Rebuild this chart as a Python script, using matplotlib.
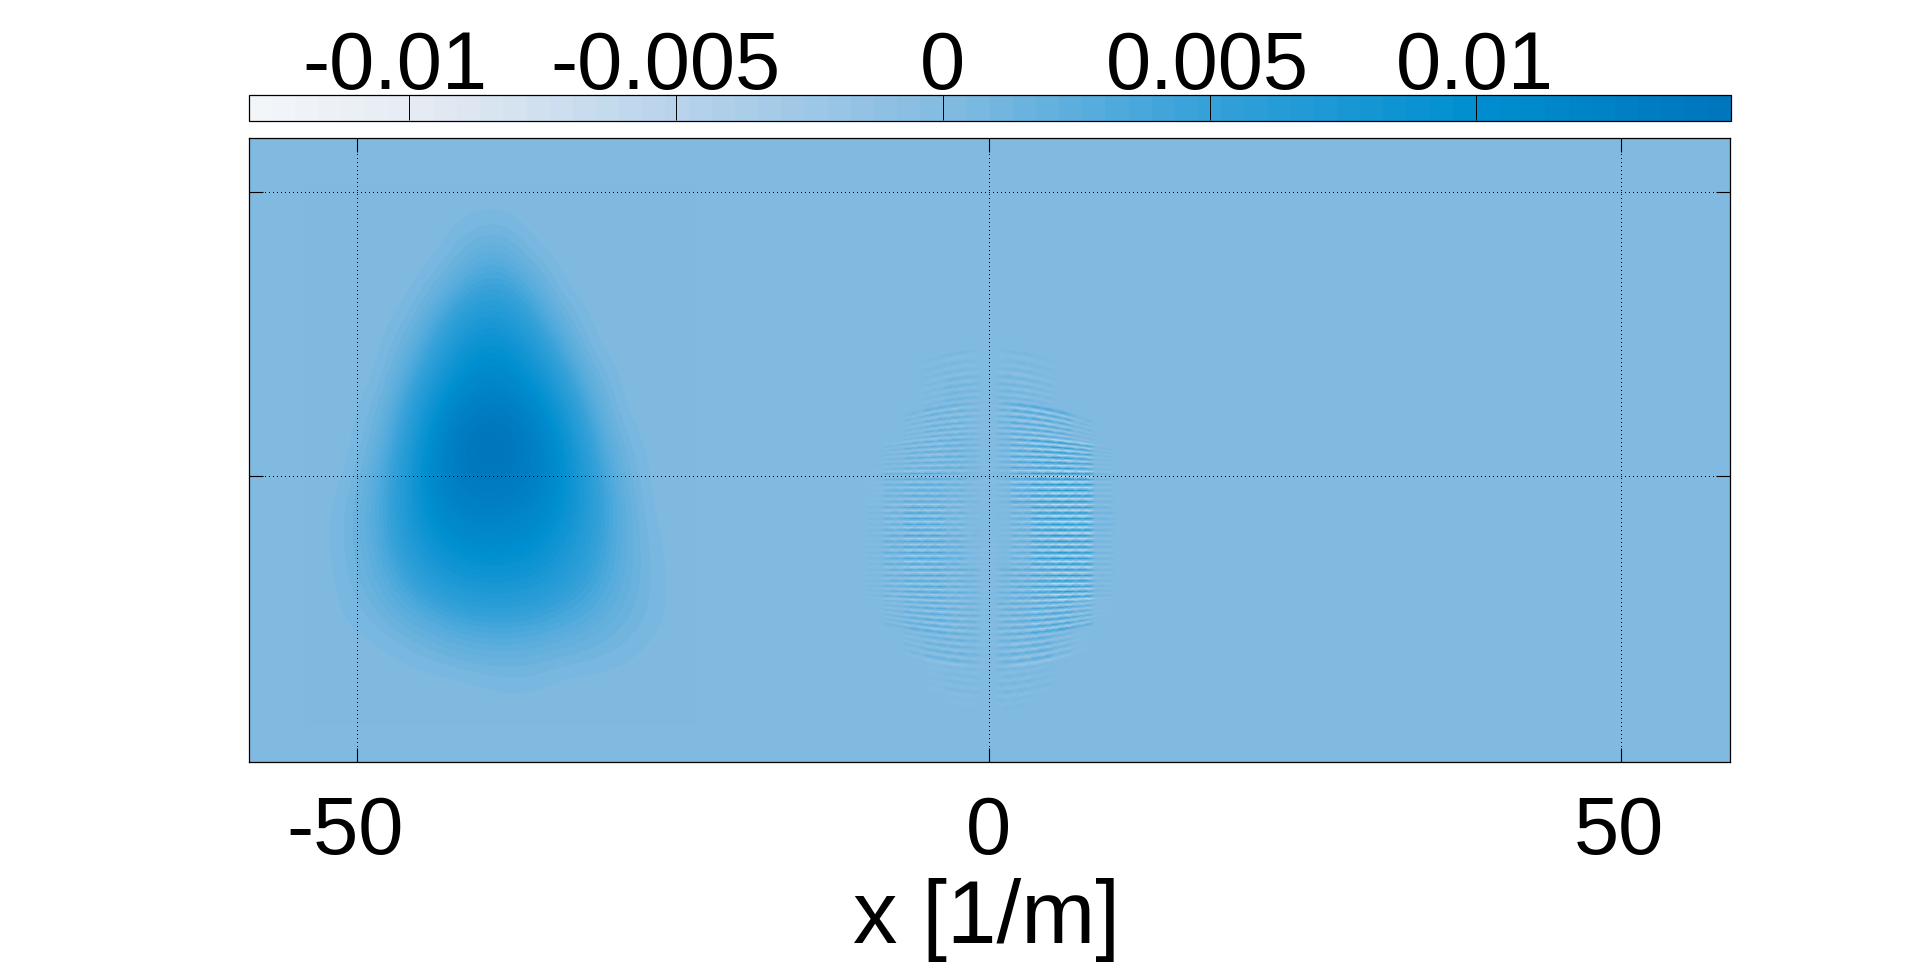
import numpy as np
import matplotlib
matplotlib.use('Agg')
import matplotlib.pyplot as plt
from matplotlib.colors import LinearSegmentedColormap, Normalize
from matplotlib.transforms import ScaledTranslation

plt.rcParams['font.family'] = ['Liberation Sans', 'DejaVu Sans']

# colour scale
cbar_min = -0.013
cbar_max = 0.01476
cbar_ticks = [-0.01, -0.005, 0, 0.005, 0.01]
cbar_labels = ['-0.01', '-0.005', '0', '0.005', '0.01']
stop_values = [-0.013, -0.01, -0.005, 0.0, 0.005, 0.01, 0.01476]
stop_colors = ['#f3f6f9', '#e6ebf3', '#b7d3eb', '#83bbe1', '#35a1d9', '#008fd0', '#0076bd']
background = 0.00013

x_ticks = [-50, 0, 50]
x_labels = ['-50', '0', '50']
y_ticks = [0, 50]

# teardrop on the left, estimated in units of 1e-3
blob_gain = 1.06
blob_x = [-52.9, -50.5, -48.2, -45.8, -43.4, -41.0, -38.7, -36.3, -33.9, -31.5, -29.2, -26.8, -24.4]
blob_y = [48.6, 43.3, 38.0, 32.8, 27.5, 22.2, 16.9, 11.6, 6.4, 1.1, -4.2, -9.5, -14.8, -20.0, -25.3, -30.6, -35.9, -41.2]
blob = [
    [0, 0, 0, 0, 0, 0, 0, 0, 0, 0, 0, 0, 0],
    [0, 0, 0, 0, 0, 0.6, 0.9, 0, 0, 0, 0, 0, 0],
    [0, 0, 0, 0, 0.2, 1.9, 2.7, 0.8, 0, 0, 0, 0, 0],
    [0, 0, 0, 0, 1.5, 4.0, 4.7, 2.8, 0.2, 0, 0, 0, 0],
    [0, 0, 0, 0.6, 3.5, 6.5, 7.0, 4.8, 1.6, 0, 0, 0, 0],
    [0, 0, 0, 1.8, 5.5, 8.5, 9.0, 7.0, 3.5, 0.3, 0, 0, 0],
    [0, 0, 0.2, 3.3, 7.5, 10.4, 10.8, 9.0, 5.5, 1.6, 0, 0, 0],
    [0, 0, 0.9, 5.0, 9.5, 12.3, 12.8, 11.0, 7.5, 3.0, 0.1, 0, 0],
    [0, 0, 1.6, 6.2, 11.0, 13.7, 14.0, 12.5, 9.0, 4.3, 0.8, 0, 0],
    [0, 0.1, 2.5, 7.0, 11.5, 13.4, 13.6, 12.5, 9.6, 5.2, 1.5, 0, 0],
    [0, 0.6, 3.0, 7.2, 10.8, 12.3, 12.4, 11.5, 9.3, 5.8, 2.2, 0, 0],
    [0, 0.8, 3.0, 6.8, 9.5, 10.6, 10.7, 10.0, 8.2, 5.5, 2.3, 0.3, 0],
    [0, 0.7, 2.6, 5.5, 7.8, 8.9, 9.0, 8.5, 7.0, 4.8, 2.2, 0.5, 0],
    [0, 0.5, 1.8, 3.8, 5.6, 6.7, 6.9, 6.5, 5.3, 3.7, 1.9, 0.6, 0],
    [0, 0.3, 0.9, 2.0, 3.1, 4.0, 4.3, 4.0, 3.2, 2.3, 1.3, 0.5, 0],
    [0, 0, 0.1, 0.6, 1.2, 1.8, 1.9, 1.8, 1.4, 1.0, 0.6, 0.1, 0],
    [0, 0, 0, 0, 0, 0.15, 0.5, 0.5, 0.1, 0.05, 0, 0, 0],
    [0, 0, 0, 0, 0, 0, 0, 0, 0, 0, 0, 0, 0],
]

# fine stripes around x=0: stripe rows, how much each one arcs, and their strength
stripe_y = [22.3, 20.4, 19.0, 17.6, 16.3, 15.1, 13.9, 12.8, 11.7, 10.6, 9.5, 8.5, 7.5, 6.5, 5.5, 4.5, 3.5,
            2.5, 1.5, 0.5, -0.5, -1.5, -2.5, -3.5, -4.5, -5.5, -6.5, -7.5, -8.5, -9.5, -10.5, -11.5,
            -12.5, -13.5, -14.5, -15.5, -16.5, -17.5, -18.5, -19.5, -20.5, -21.5, -22.5, -23.5, -24.6,
            -25.7, -26.8, -27.9, -29.1, -30.3, -31.5, -32.8, -34.1, -35.4, -36.7, -38.1, -39.5, -41.0]
stripe_bend = [0.08, 0.075, 0.072, 0.068, 0.064, 0.06, 0.055, 0.05, 0.045, 0.04, 0.035, 0.03, 0.025, 0.02,
               0.016, 0.012, 0.009, 0.006, 0.004, 0.002, 0.001, 0, 0, 0, 0, 0, 0, 0, 0, 0, 0, 0, 0, 0, 0, 0,
               0, 0, -0.001, -0.002, -0.004, -0.006, -0.009, -0.012, -0.016, -0.02, -0.025, -0.03,
               -0.035, -0.04, -0.045, -0.05, -0.055, -0.06, -0.064, -0.068, -0.072, -0.075]
fringe_x = [-9.1, -7.5, -5.9, -4.3, -2.7, -1.2, 0.0, 1.2, 2.8, 4.4, 5.9, 7.5, 9.1, 10.7]
fringe_y = [21.9, 16.0, 10.2, 4.3, -1.6, -7.4, -13.3, -19.2, -25.0, -30.9, -36.8, -41.5]
fringe_amp = [
    [0, 0, 0, 0.2, 0.4, 0.3, 0.03, 0.3, 0.4, 0.2, 0, 0, 0, 0],
    [0, 0, 0, 0.3, 0.6, 0.5, 0.05, 0.6, 0.7, 0.4, 0, 0, 0, 0],
    [0, 0, 0.4, 0.9, 1.0, 0.7, 0.1, 0.9, 1.7, 2.0, 1.5, 0.4, 0, 0],
    [0, 0.4, 0.9, 1.2, 1.1, 0.6, 0.1, 0.8, 2.0, 2.8, 3.2, 2.2, 0.3, 0],
    [0.1, 0.8, 1.4, 1.3, 0.9, 0.4, 0.1, 0.5, 2.0, 3.2, 3.8, 3.2, 0.5, 0],
    [0.2, 1.0, 1.9, 1.8, 1.0, 0.3, 0.05, 0.2, 1.2, 3.2, 3.8, 3.5, 0.6, 0],
    [0.2, 1.1, 2.0, 1.9, 1.1, 0.4, 0.1, 0.2, 1.2, 3.0, 3.8, 3.3, 0.5, 0],
    [0.2, 0.9, 1.6, 1.7, 1.2, 0.8, 0.1, 0.8, 1.5, 2.5, 3.5, 2.8, 0.4, 0],
    [0, 0.5, 1.1, 1.5, 1.2, 0.8, 0.1, 0.9, 1.4, 2.0, 2.2, 1.2, 0.1, 0],
    [0, 0, 0.4, 0.8, 0.9, 0.6, 0.1, 0.8, 1.2, 1.3, 0.7, 0.1, 0, 0],
    [0, 0, 0, 0.1, 0.25, 0.25, 0.05, 0.4, 0.4, 0.2, 0, 0, 0, 0],
    [0, 0, 0, 0, 0.1, 0.1, 0, 0.15, 0.15, 0, 0, 0, 0, 0],
]
fringe_gain = 2.3
dash_weight = [1.0, 0.7]

fig = plt.figure(figsize=(19.1, 9.74), dpi=100)
ax = fig.add_axes([248.7/1910, 1-761.5/974, 1480.9/1910, 623.5/974])
cax = fig.add_axes([248.7/1910, 1-120.5/974, 1481.9/1910, 25.2/974])

stops = [(v-cbar_min)/(cbar_max-cbar_min) for v in stop_values]
cmap = LinearSegmentedColormap.from_list('bar', list(zip(stops, stop_colors)), N=64)
norm = Normalize(cbar_min, cbar_max)

ax.set_facecolor(cmap(norm(background)))

# teardrop
dx = (blob_x[1]-blob_x[0])/2
dy = (blob_y[0]-blob_y[1])/2
im = ax.imshow(np.array(blob)*blob_gain*1e-3+background, cmap=cmap, norm=norm, aspect='auto', interpolation='bicubic',
               extent=[blob_x[0]-dx, blob_x[-1]+dx, blob_y[-1]-dy, blob_y[0]+dy], zorder=1)

# stripes, one dark and one light row per entry of stripe_y
sy = np.array(stripe_y)
sb = np.array(stripe_bend)
row_y = np.empty(2*len(sy)-1)
row_b = np.empty(2*len(sy)-1)
row_y[0::2] = sy
row_y[1::2] = (sy[:-1]+sy[1:])/2
row_b[0::2] = sb
row_b[1::2] = (sb[:-1]+sb[1:])/2
rows = np.arange(len(row_y))
sign = np.where(rows % 2 == 0, 1.0, -1.0)

# mesh columns about half a dash wide, strength taken from the nearest reading
fx = np.arange(-9.6, 10.4, 0.53)
cols = np.arange(len(fx))
near_row = np.abs(row_y[:, None]-np.array(fringe_y)).argmin(axis=1)
near_col = np.abs(fx[:, None]-np.array(fringe_x)).argmin(axis=1)
amp = np.array(fringe_amp)[near_row][:, near_col]
weight = np.array(dash_weight)[(rows[:, None]//2+cols[None, :]) % 2]
fringe = amp*weight*sign[:, None]*fringe_gain*1e-3+background
X = np.tile(fx, (len(row_y), 1))
Y = row_y[:, None]-row_b[:, None]*fx[None, :]**2
ax.pcolormesh(X, Y, fringe, cmap=cmap, norm=norm, shading='gouraud', zorder=2)

ax.set_xlim(-58.55, 58.6)
ax.set_ylim(-50.2, 59.55)
ax.set_xticks(x_ticks)
ax.set_xticklabels(x_labels)
ax.set_yticks(y_ticks)
ax.set_yticklabels([])
ax.tick_params(axis='both', direction='in', length=10, width=0.8, top=True, right=True, colors='black')
ax.tick_params(axis='x', labelsize=58.5, pad=24)
ax.grid(True, color='black', linewidth=0.72, linestyle=(0, (1, 4)), zorder=3, antialiased=False)
ax.set_axisbelow(False)
for s in ax.spines.values():
    s.set_linewidth(0.9)
ax.set_xlabel('x [1/m]', fontsize=64)
ax.xaxis.set_label_coords(0.498, -0.187)
ax.xaxis.label.set_va('top')

cb = fig.colorbar(im, cax=cax, orientation='horizontal', ticks=cbar_ticks)
cb.ax.xaxis.set_ticks_position('top')
cb.ax.set_xticklabels(cbar_labels)
cb.ax.tick_params(axis='x', direction='in', length=18.2, width=0.7, labelsize=58.5, pad=-7.5)
cb.outline.set_linewidth(0.9)
cb.minorticks_off()

# the negative labels sit a little left of their ticks in the reference
for lab, shift in zip(cb.ax.get_xticklabels(), [-0.14, -0.1, 0, -0.02, -0.02]):
    lab.set_transform(lab.get_transform()+ScaledTranslation(shift, 0, fig.dpi_scale_trans))
for lab, shift in zip(ax.get_xticklabels(), [-0.12, 0, -0.02]):
    lab.set_transform(lab.get_transform()+ScaledTranslation(shift, 0, fig.dpi_scale_trans))

fig.savefig('out.png', dpi=100)
